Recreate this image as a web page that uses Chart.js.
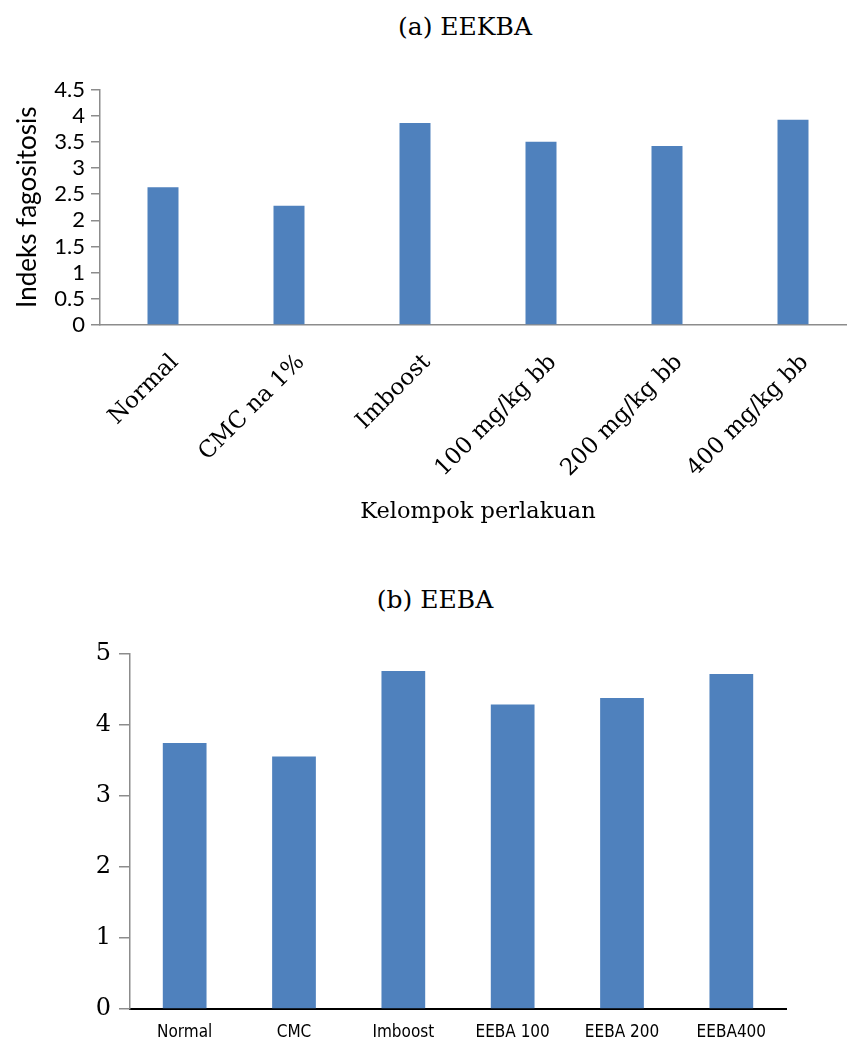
<!DOCTYPE html>
<html><head><meta charset="utf-8">
<script src="https://cdn.jsdelivr.net/npm/chart.js@4.4.1/dist/chart.umd.min.js"></script>
<style>
html,body{margin:0;padding:0;background:#fff;width:847px;height:1038px;overflow:hidden;position:relative}
.t{position:absolute;font-family:'DejaVu Serif',serif;font-size:25px;color:#000;white-space:nowrap;transform:translate(-50%,-50%)}
#c1{position:absolute;left:0;top:0}
#c2{position:absolute;left:0;top:560px}
</style></head><body>
<div class="t" style="left:465px;top:26px">(a) EEKBA</div>
<div class="t" style="left:435px;top:599px">(b) EEBA</div>
<canvas id="c1" width="870" height="540"></canvas>
<canvas id="c2" width="847" height="478"></canvas>
<script>
// Chart (a) EEKBA
const categoriesA = ['Normal', 'CMC na 1%', 'Imboost', '100 mg/kg bb', '200 mg/kg bb', '400 mg/kg bb'];
const valuesA = [2.63, 2.28, 3.86, 3.50, 3.42, 3.92];
const yTicksA = [0, 0.5, 1, 1.5, 2, 2.5, 3, 3.5, 4, 4.5];
const yTitleA = 'Indeks fagositosis';
const xTitleA = 'Kelompok perlakuan';

// Chart (b) EEBA
const categoriesB = ['Normal', 'CMC', 'Imboost', 'EEBA 100', 'EEBA 200', 'EEBA400'];
const valuesB = [3.74, 3.55, 4.75, 4.28, 4.37, 4.71];
const yTicksB = [0, 1, 2, 3, 4, 5];

const BAR = '#4F81BD';
const GRAY = '#8c8c8c';

new Chart(document.getElementById('c1'), {
  type: 'bar',
  data: { labels: categoriesA, datasets: [{ data: valuesA, backgroundColor: BAR, borderWidth: 0, barPercentage: 0.5, categoryPercentage: 0.492 }] },
  options: {
    responsive: false, animation: false, devicePixelRatio: 1,
    layout: { padding: { top: 89.5, right: 14, bottom: 14.4, left: 0 } },
    plugins: { legend: { display: false }, tooltip: { enabled: false } },
    scales: {
      x: {
        grid: { display: false, drawTicks: false },
        border: { display: true, color: GRAY, width: 1.5 },
        ticks: { minRotation: 45, maxRotation: 45, padding: 24, labelOffset: 12, autoSkip: false, color: '#000', font: { family: 'DejaVu Serif', size: 23 } },
        title: { display: true, text: xTitleA, color: '#000', padding: { top: 0, bottom: 0 }, font: { family: 'DejaVu Serif', size: 22.5 } },
        afterFit(s) { s.height = 200.6; }
      },
      y: {
        min: 0, max: 4.5,
        afterBuildTicks(s) { s.ticks = yTicksA.map(v => ({ value: v })); },
        grid: { drawOnChartArea: false, drawTicks: true, tickLength: 9, color: GRAY, lineWidth: 1.5 },
        border: { display: true, color: GRAY, width: 1.5 },
        ticks: { padding: 6, autoSkip: false, color: '#000', font: { family: 'Lato', size: 22 }, callback: v => String(v) },
        title: { display: true, text: yTitleA, color: '#000', padding: { top: 12, bottom: 0 }, font: { family: 'Lato', size: 26 } },
        afterFit(s) { s.width = 100; }
      }
    }
  }
});

new Chart(document.getElementById('c2'), {
  type: 'bar',
  data: { labels: categoriesB, datasets: [{ data: valuesB, backgroundColor: BAR, borderWidth: 0, barPercentage: 0.5, categoryPercentage: 0.8 }] },
  options: {
    responsive: false, animation: false, devicePixelRatio: 1,
    layout: { padding: { top: 93.3, right: 61, bottom: 0, left: 0 } },
    plugins: { legend: { display: false }, tooltip: { enabled: false } },
    scales: {
      x: {
        grid: { display: false, drawTicks: false },
        border: { display: true, color: '#000', width: 2 },
        ticks: { maxRotation: 0, minRotation: 0, padding: 13, autoSkip: false, color: '#000', font: { family: "'Liberation Sans Narrow', 'DejaVu Sans Condensed', 'Liberation Sans', sans-serif", size: 17 } },
        afterFit(s) { s.height = 29; }
      },
      y: {
        min: 0, max: 5,
        afterBuildTicks(s) { s.ticks = yTicksB.map(v => ({ value: v })); },
        grid: { drawOnChartArea: false, drawTicks: true, tickLength: 11, color: GRAY, lineWidth: 1.5 },
        border: { display: true, color: GRAY, width: 1.5 },
        ticks: { padding: 8, autoSkip: false, color: '#000', font: { family: 'DejaVu Serif', size: 24 }, callback: v => String(v) },
        afterFit(s) { s.width = 130; }
      }
    }
  }
});
</script>
</body></html>
